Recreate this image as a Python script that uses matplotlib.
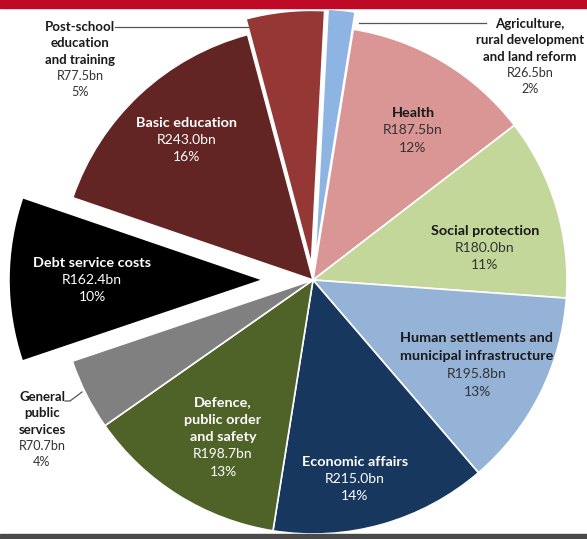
import matplotlib.pyplot as plt
from matplotlib.patches import Rectangle

W, H = 587, 539

# budget data, clockwise from the top
names = ['Agriculture,\nrural development\nand land reform', 'Health', 'Social protection',
         'Human settlements and\nmunicipal infrastructure', 'Economic affairs',
         'Defence,\npublic order\nand safety', 'General\npublic\nservices',
         'Debt service costs', 'Basic education', 'Post-school\neducation\nand training']
values = [26.5, 187.5, 180.0, 195.8, 215.0, 198.7, 70.7, 162.4, 243.0, 77.5]
shares = [2, 12, 11, 13, 14, 13, 4, 10, 16, 5]

colors = ['#8DB4E2', '#DA9694', '#C4D79B', '#95B3D7', '#17375E',
          '#4F6228', '#808080', '#000000', '#632523', '#953735']
text_colors = ['#1a1a1a', '#1a1a1a', '#1a1a1a', '#1a1a1a', 'white',
               'white', '#1a1a1a', 'white', 'white', '#1a1a1a']
# pie offsets, fraction of radius
explode = [0.068, 0, 0, 0, 0, 0, 0, 0.197, 0, 0.062]

# label layout (pixel coords of first line, line step, font size)
label_xy = [(530, 24), (413, 113), (485, 231), (477, 338), (355, 462),
            (223, 402), (42, 397), (92, 263), (187, 123), (80, 27)]
label_step = [16.3, 17.5, 17, 18, 17, 17.5, 16.3, 17, 17, 16.3]
label_size = [9.5, 10.4, 10.4, 10.4, 10.4, 10.4, 9.5, 10.4, 10.4, 9.5]

plt.rcParams['font.family'] = ['Lato', 'DejaVu Sans']

fig = plt.figure(figsize=(W / 100, H / 100), dpi=100)
ax = fig.add_axes([0, 0, 1, 1])

cx, cy, r = 313, H - 280, 254
# explode is in data units when a radius is given, so scale it
ax.pie(values, colors=colors, explode=[e * r for e in explode], startangle=87,
       counterclock=False, center=(cx, cy), radius=r,
       wedgeprops=dict(edgecolor='white', linewidth=1.2))
ax.set_xlim(0, W)
ax.set_ylim(0, H)
ax.set_aspect('auto')
ax.axis('off')

for i, name in enumerate(names):
    x, y = label_xy[i]
    lines = name.split('\n')
    tc = text_colors[i]
    for j, ln in enumerate(lines):
        ax.text(x, H - (y + j * label_step[i]), ln, ha='center', va='center',
                fontsize=label_size[i], fontweight='bold', color=tc)
    n = len(lines)
    sub = tc if tc == 'white' else '#333333'
    ax.text(x, H - (y + n * label_step[i]), 'R{:.1f}bn'.format(values[i]), ha='center',
            va='center', fontsize=label_size[i] - 0.4, color=sub)
    ax.text(x, H - (y + (n + 1) * label_step[i]), '{}%'.format(shares[i]), ha='center',
            va='center', fontsize=label_size[i] - 0.4, color=sub)

# leader lines for the outside labels
ax.plot([359, 486], [H - 23, H - 23], color='#555555', lw=0.9)
ax.plot([115, 250], [H - 27, H - 27], color='#555555', lw=0.9)
ax.plot([65, 70, 82], [H - 401, H - 401, H - 392], color='#555555', lw=0.9)

# header and footer bands
ax.add_patch(Rectangle((0, H - 8), W, 8, color='#BE0A26', clip_on=False))
ax.add_patch(Rectangle((0, 0), W, 5, color='#4A4A4A', clip_on=False))

fig.savefig('out.png', dpi=100)
